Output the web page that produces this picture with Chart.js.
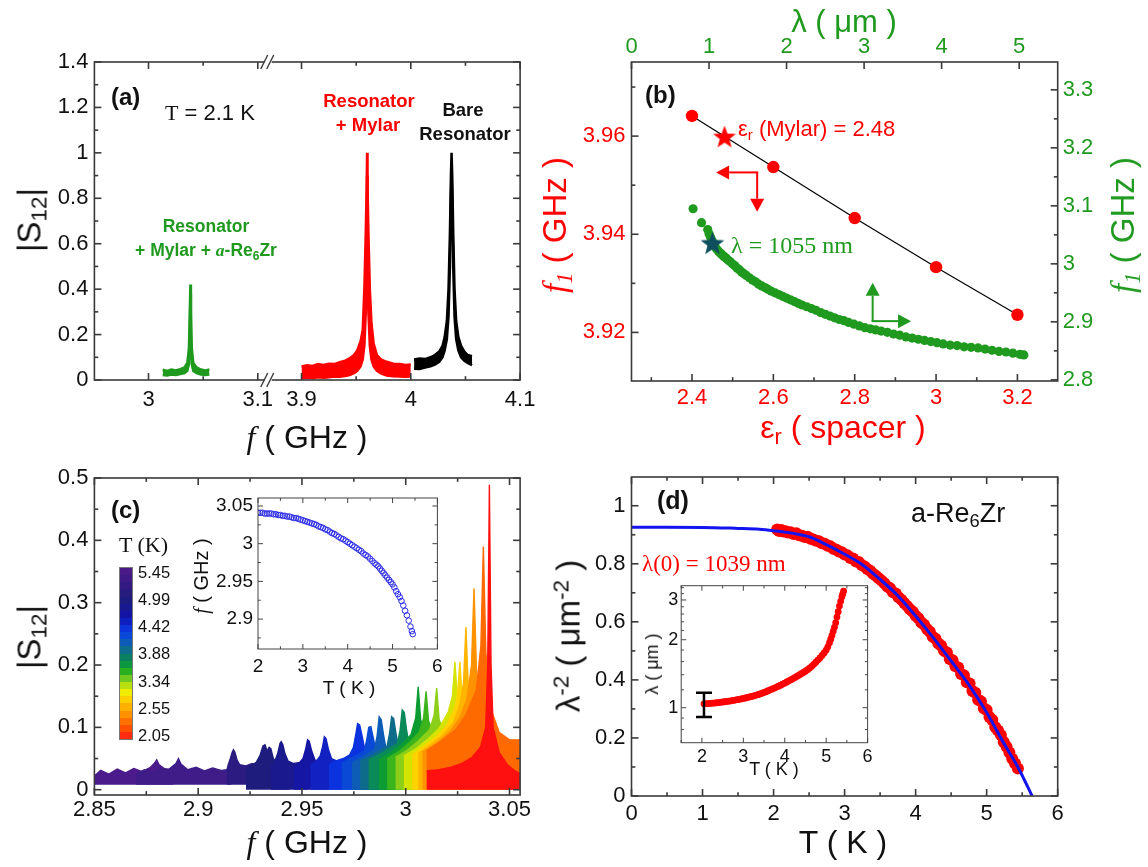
<!DOCTYPE html>
<html>
<head>
<meta charset="utf-8">
<script src="https://cdn.jsdelivr.net/npm/chart.js@4.4.1/dist/chart.umd.min.js"></script>
<style>
  body { margin: 0; background: #fff; width: 1148px; height: 867px; position: relative; overflow: hidden;
         font-family: "Liberation Sans", Arial, sans-serif; color: #111; }
  .box { position: absolute; }
  .t { position: absolute; white-space: nowrap; line-height: 1; z-index: 5; }
  .c { transform: translate(-50%, -50%); }
  .l { transform: translate(0, -50%); }
  .rot { transform: translate(-50%, -50%) rotate(-90deg); }
  .b { font-weight: bold; }
  .serif { font-family: "Liberation Serif", "Times New Roman", serif; }
  sub { font-size: .68em; vertical-align: -.28em; line-height: 0; }
  sup { font-size: .68em; vertical-align: .5em; line-height: 0; }
  #cbar { position: absolute; left: 119px; top: 567px; width: 12px; height: 171px; border: 1px solid #777;
          display: flex; flex-direction: column; z-index: 4; }
  #cbar div { flex: 1; }
</style>
</head>
<body>
<div class="box" id="wa"><canvas id="ca"></canvas></div>
<div class="box" id="wb"><canvas id="cb"></canvas></div>
<div class="box" id="wc"><canvas id="cc"></canvas></div>
<div class="box" id="wd"><canvas id="cd"></canvas></div>
<div class="box" id="wci" style="z-index:3"><canvas id="cci"></canvas></div>
<div class="box" id="wdi" style="z-index:3"><canvas id="cdi"></canvas></div>
<div id="cbar"></div>

<!-- panel (a) text -->
<div class="t b l" style="left:111px;top:97px;font-size:24px">(a)</div>
<div class="t l" style="left:165px;top:113px;font-size:22px"><span class="serif">T</span> = 2.1 K</div>
<div class="t b c" style="left:369px;top:101px;font-size:18.5px;color:#f00">Resonator</div>
<div class="t b c" style="left:368px;top:125px;font-size:18.5px;color:#f00">+ Mylar</div>
<div class="t b c" style="left:463px;top:110px;font-size:18.5px">Bare</div>
<div class="t b c" style="left:465px;top:134px;font-size:18.5px">Resonator</div>
<div class="t b c" style="left:206px;top:227px;font-size:17.5px;color:#1f9a1f">Resonator</div>
<div class="t b c" style="left:206px;top:251px;font-size:17.5px;color:#1f9a1f">+ Mylar + <i class="serif">a</i>-Re<sub>6</sub>Zr</div>
<div class="t rot" style="left:29px;top:220px;font-size:33px">|S<sub>12</sub>|</div>
<div class="t c" style="left:307px;top:437px;font-size:32px"><i class="serif">f</i> ( GHz )</div>

<!-- panel (b) text -->
<div class="t c" style="left:844px;top:21px;font-size:31px;color:#1f9a1f">λ ( μm )</div>
<div class="t b l" style="left:645px;top:95px;font-size:24px">(b)</div>
<div class="t l" style="left:738px;top:129px;font-size:22px;color:#f00">ε<sub>r</sub> (Mylar) = 2.48</div>
<div class="t l serif" style="left:731px;top:245px;font-size:24px;color:#1f9a1f">λ = 1055 nm</div>
<div class="t rot" style="left:555px;top:225px;font-size:33px;color:#f00"><i class="serif">f<sub>1</sub></i> ( GHz )</div>
<div class="t rot" style="left:1123px;top:225px;font-size:33px;color:#1f9a1f"><i class="serif">f<sub>1</sub></i> ( GHz )</div>
<div class="t c" style="left:843px;top:427px;font-size:32px;color:#f00">ε<sub>r</sub> ( spacer )</div>

<!-- panel (c) text -->
<div class="t b l" style="left:111px;top:510px;font-size:24px">(c)</div>
<div class="t l serif" style="left:119px;top:545px;font-size:22px">T (K)</div>
<div id="cbarLabels"></div>
<div class="t rot" style="left:29px;top:637px;font-size:33px">|S<sub>12</sub>|</div>
<div class="t c" style="left:307px;top:842px;font-size:32px"><i class="serif">f</i> ( GHz )</div>
<div class="t rot" style="left:201px;top:576px;font-size:20px"><i class="serif">f</i> ( GHz )</div>
<div class="t c" style="left:349px;top:687px;font-size:19px">T ( K )</div>

<!-- panel (d) text -->
<div class="t b l" style="left:657px;top:500px;font-size:25px">(d)</div>
<div class="t l" style="left:911px;top:513px;font-size:27px">a-Re<sub>6</sub>Zr</div>
<div class="t l serif" style="left:642px;top:563px;font-size:23px;color:#f00">λ(0) = 1039 nm</div>
<div class="t rot" style="left:568px;top:636px;font-size:33px">λ<sup>-2</sup> ( μm<sup>-2</sup> )</div>
<div class="t c" style="left:843px;top:842px;font-size:32px">T ( K )</div>
<div class="t rot" style="left:652px;top:664px;font-size:18px">λ ( μm )</div>
<div class="t c" style="left:774px;top:769px;font-size:18px">T ( K )</div>

<script>
// ---------- data: panel (a) |S12| envelopes (GHz, low / high edge of noisy trace)
const aGreenF  = [3.013, 3.017, 3.021, 3.025, 3.029, 3.033, 3.0355, 3.037, 3.0378, 3.0383, 3.0388, 3.0396, 3.041, 3.044, 3.048, 3.052, 3.0557];
const aGreenLo = [0.022, 0.020, 0.024, 0.022, 0.026, 0.030, 0.040, 0.070, 0.20, 0.38, 0.20, 0.070, 0.040, 0.030, 0.024, 0.022, 0.024];
const aGreenHi = [0.045, 0.040, 0.046, 0.042, 0.048, 0.055, 0.075, 0.14, 0.30, 0.42, 0.30, 0.14, 0.075, 0.055, 0.046, 0.042, 0.046];

const aRedF  = [3.900, 3.905, 3.910, 3.915, 3.920, 3.925, 3.930, 3.935, 3.940, 3.944, 3.948, 3.951, 3.954, 3.956, 3.9575, 3.9588, 3.9596, 3.9600, 3.9604, 3.9612, 3.9625, 3.964, 3.966, 3.969, 3.973, 3.978, 3.984, 3.990, 3.995, 4.000];
const aRedLo = [0.008, 0.010, 0.008, 0.012, 0.010, 0.012, 0.015, 0.014, 0.018, 0.022, 0.030, 0.040, 0.060, 0.090, 0.15, 0.30, 0.55, 0.90, 0.55, 0.30, 0.15, 0.090, 0.060, 0.040, 0.028, 0.020, 0.016, 0.015, 0.014, 0.015];
const aRedHi = [0.060, 0.065, 0.062, 0.070, 0.066, 0.072, 0.070, 0.078, 0.085, 0.095, 0.11, 0.13, 0.17, 0.22, 0.40, 0.65, 0.85, 1.0, 0.85, 0.65, 0.40, 0.25, 0.16, 0.11, 0.090, 0.080, 0.072, 0.070, 0.066, 0.068];

const aBlackF  = [4.003, 4.008, 4.013, 4.018, 4.022, 4.026, 4.029, 4.031, 4.033, 4.0345, 4.0358, 4.0367, 4.0373, 4.0379, 4.0388, 4.040, 4.0415, 4.0435, 4.046, 4.049, 4.052, 4.056];
const aBlackLo = [0.050, 0.048, 0.055, 0.060, 0.068, 0.080, 0.10, 0.13, 0.18, 0.28, 0.50, 0.80, 0.92, 0.80, 0.50, 0.28, 0.18, 0.13, 0.10, 0.085, 0.075, 0.065];
const aBlackHi = [0.090, 0.095, 0.092, 0.100, 0.110, 0.125, 0.15, 0.19, 0.26, 0.40, 0.65, 0.90, 1.0, 0.90, 0.65, 0.40, 0.26, 0.19, 0.15, 0.125, 0.110, 0.105];

const aXTicks = [3, 3.1, 3.9, 4, 4.1];
const aXLabels = ['3', '3.1', '3.9', '4', '4.1'];
const aXMinor = [3.05, 3.95, 4.05];
const aYTicks = [0, 0.2, 0.4, 0.6, 0.8, 1, 1.2, 1.4];
const aYMinor = [0.1, 0.3, 0.5, 0.7, 0.9, 1.1, 1.3];

// ---------- data: panel (b)
const bEps = [2.4, 2.6, 2.8, 3.0, 3.2];
const bF1 = [3.9641, 3.9537, 3.9433, 3.9333, 3.9236];
const bMylarEps = [2.48];
const bMylarF1 = [3.9597];
const bLam = [0.794, 0.903, 0.983, 1.00, 1.02, 1.04, 1.06, 1.08, 1.10, 1.12, 1.14, 1.16, 1.18, 1.20, 1.22, 1.24, 1.27, 1.30, 1.33, 1.36,
              1.39, 1.42, 1.45, 1.48, 1.52, 1.56, 1.60, 1.64, 1.68, 1.72, 1.76, 1.80, 1.85, 1.90, 1.95, 2.00, 2.05, 2.10, 2.15, 2.20,
              2.26, 2.32, 2.38, 2.44, 2.50, 2.56, 2.62, 2.68, 2.74, 2.80, 2.87, 2.94, 3.01, 3.08, 3.15, 3.22, 3.30, 3.38, 3.46, 3.54,
              3.62, 3.70, 3.78, 3.86, 3.94, 4.02, 4.11, 4.20, 4.29, 4.38, 4.47, 4.56, 4.65, 4.74, 4.83, 4.92, 5.01, 5.06];
const bF1Lam = [3.095, 3.071, 3.059, 3.052, 3.046, 3.040, 3.034, 3.029, 3.025, 3.022, 3.019, 3.017, 3.014, 3.012, 3.010, 3.007, 3.004, 3.000, 2.997, 2.993,
                2.990, 2.986, 2.983, 2.980, 2.976, 2.972, 2.969, 2.965, 2.962, 2.959, 2.956, 2.953, 2.950, 2.947, 2.944, 2.941, 2.938, 2.935, 2.932, 2.929,
                2.926, 2.923, 2.920, 2.916, 2.913, 2.910, 2.907, 2.904, 2.902, 2.899, 2.896, 2.893, 2.890, 2.888, 2.886, 2.884, 2.882, 2.879, 2.877, 2.874,
                2.872, 2.870, 2.868, 2.866, 2.864, 2.862, 2.860, 2.859, 2.857, 2.856, 2.855, 2.853, 2.851, 2.849, 2.848, 2.846, 2.844, 2.843];
const bStarLam = [1.044];
const bStarF1 = [3.034];
const bXTicks = [2.4, 2.6, 2.8, 3.0, 3.2];
const bXMinor = [2.3, 2.5, 2.7, 2.9, 3.1];
const bTopTicks = [0, 1, 2, 3, 4, 5];
const bYTicks = [3.92, 3.94, 3.96];
const bYMinor = [3.93, 3.95, 3.97];
const bY2Ticks = [2.8, 2.9, 3.0, 3.1, 3.2, 3.3];
const bY2Minor = [2.85, 2.95, 3.05, 3.15, 3.25];

// ---------- data: panel (c) spectra, one per temperature (GHz, |S12|)
const cTemps = [5.45, 5.30, 5.15, 5.00, 4.85, 4.70, 4.55, 4.42, 4.30, 4.15, 4.00, 3.88, 3.75, 3.60, 3.45, 3.34, 3.15, 2.95, 2.75, 2.55, 2.05];
const cSpectra = [
  [[2.850,0.022],[2.853,0.031],[2.857,0.025],[2.861,0.033],[2.865,0.027],[2.869,0.034],[2.873,0.029],[2.877,0.036],[2.8788,0.042],[2.880,0.048],[2.8812,0.040],[2.884,0.033],[2.888,0.030]],
  [[2.870,0.024],[2.874,0.032],[2.878,0.027],[2.882,0.034],[2.886,0.033],[2.8893,0.042],[2.8905,0.050],[2.8917,0.041],[2.895,0.032],[2.899,0.036],[2.903,0.030],[2.907,0.035],[2.911,0.031],[2.916,0.033]],
  [[2.9137,0.030],[2.9145,0.040],[2.9155,0.050],[2.9164,0.060],[2.917,0.064],[2.9177,0.060],[2.9187,0.048],[2.920,0.040],[2.923,0.038],[2.926,0.042],[2.929,0.036],[2.932,0.038]],
  [[2.923,0.034],[2.926,0.040],[2.928,0.044],[2.9298,0.055],[2.9312,0.070],[2.9322,0.072],[2.9332,0.062],[2.9342,0.068],[2.935,0.066],[2.9362,0.050],[2.938,0.042],[2.941,0.040],[2.944,0.040]],
  [[2.935,0.036],[2.9368,0.044],[2.9383,0.058],[2.9394,0.074],[2.940,0.077],[2.9408,0.072],[2.9418,0.058],[2.9433,0.046],[2.946,0.042],[2.950,0.044],[2.953,0.040]],
  [[2.946,0.036],[2.949,0.044],[2.9505,0.050],[2.9517,0.064],[2.9527,0.080],[2.9535,0.078],[2.9547,0.062],[2.9562,0.048],[2.959,0.044],[2.963,0.042]],
  [[2.954,0.038],[2.957,0.046],[2.9588,0.054],[2.9600,0.070],[2.9608,0.085],[2.9616,0.082],[2.9628,0.064],[2.9642,0.050],[2.967,0.046],[2.970,0.044]],
  [[2.963,0.040],[2.966,0.046],[2.970,0.050],[2.973,0.056],[2.9748,0.068],[2.976,0.090],[2.9768,0.106],[2.9778,0.104],[2.979,0.086],[2.9803,0.064],[2.982,0.054],[2.986,0.048]],
  [[2.969,0.042],[2.973,0.050],[2.977,0.056],[2.9800,0.062],[2.9812,0.080],[2.9822,0.100],[2.9832,0.101],[2.9843,0.084],[2.9857,0.062],[2.988,0.054],[2.991,0.050]],
  [[2.974,0.044],[2.978,0.050],[2.982,0.058],[2.9850,0.066],[2.9862,0.086],[2.9872,0.117],[2.9882,0.112],[2.9893,0.088],[2.9905,0.066],[2.993,0.056],[2.997,0.052]],
  [[2.978,0.046],[2.983,0.054],[2.987,0.062],[2.9910,0.070],[2.9922,0.090],[2.9932,0.117],[2.9942,0.114],[2.9953,0.090],[2.9966,0.068],[2.999,0.058],[3.002,0.054]],
  [[2.982,0.048],[2.987,0.056],[2.992,0.066],[2.9960,0.074],[2.9973,0.096],[2.9983,0.128],[2.9993,0.124],[3.0004,0.096],[3.0017,0.070],[3.004,0.060],[3.007,0.056]],
  [[2.987,0.048],[2.993,0.060],[2.998,0.072],[3.0025,0.088],[3.0048,0.115],[3.006,0.165],[3.0072,0.112],[3.011,0.076],[3.015,0.062]],
  [[2.991,0.050],[2.997,0.062],[3.002,0.076],[3.0065,0.092],[3.0086,0.115],[3.0098,0.158],[3.011,0.110],[3.015,0.078],[3.019,0.064]],
  [[2.995,0.052],[3.001,0.064],[3.006,0.078],[3.0115,0.096],[3.0137,0.120],[3.0149,0.163],[3.0161,0.112],[3.020,0.080],[3.024,0.066]],
  [[2.999,0.054],[3.005,0.066],[3.011,0.082],[3.016,0.098],[3.0205,0.125],[3.0225,0.150],[3.0237,0.205],[3.0249,0.145],[3.028,0.095],[3.032,0.075]],
  [[3.003,0.056],[3.009,0.070],[3.015,0.086],[3.020,0.104],[3.0235,0.130],[3.0249,0.150],[3.0261,0.205],[3.0273,0.140],[3.031,0.095],[3.036,0.078]],
  [[3.006,0.058],[3.012,0.072],[3.018,0.088],[3.023,0.108],[3.026,0.135],[3.0278,0.170],[3.029,0.261],[3.0302,0.160],[3.034,0.098],[3.040,0.080],[3.046,0.072],[3.051,0.068],[3.055,0.066]],
  [[3.008,0.060],[3.015,0.075],[3.021,0.092],[3.026,0.115],[3.0295,0.145],[3.0317,0.200],[3.0329,0.323],[3.0341,0.190],[3.037,0.112],[3.042,0.086],[3.048,0.075],[3.055,0.070]],
  [[3.010,0.062],[3.017,0.078],[3.024,0.096],[3.029,0.120],[3.034,0.160],[3.0362,0.230],[3.0374,0.390],[3.0386,0.220],[3.041,0.130],[3.045,0.092],[3.050,0.080],[3.055,0.080]],
  [[3.010,0.030],[3.016,0.032],[3.022,0.036],[3.027,0.042],[3.032,0.052],[3.036,0.068],[3.0385,0.100],[3.0395,0.200],[3.0403,0.489],[3.0411,0.200],[3.0421,0.100],[3.045,0.060],[3.049,0.040],[3.052,0.032],[3.055,0.026]]
];
const cColors = ['#4b1b8c', '#3f1c88', '#2c1b80', '#1e1c7c', '#1a1a8e', '#1616a4', '#1222c2', '#0a32de', '#0a48d6', '#0d5cb6', '#0e6c8a',
                 '#0a8a58', '#0c9c32', '#3cb41c', '#8ccf18', '#d4e400', '#ffd200', '#ffb400', '#ff9200', '#ff6a00', '#ff1010'];
const cBarLabels = ['5.45', '4.99', '4.42', '3.88', '3.34', '2.55', '2.05'];
const cBarColors = ['#4a1a88', '#3f1a86', '#331a82', '#261c7e', '#1c1c80', '#181890', '#1414a4', '#1020c0', '#0c34d8', '#0a48d8', '#0c5cb8', '#0e6c8c',
                    '#0a8060', '#0c9840', '#28b020', '#70c820', '#b8e010', '#f0ec00', '#ffd000', '#ffb000', '#ff9000', '#ff7000', '#ff5000', '#ff2a10'];
const cXTicks = [2.85, 2.9, 2.95, 3.0, 3.05];
const cXMinor = [2.875, 2.925, 2.975, 3.025];
const cYTicks = [0, 0.1, 0.2, 0.3, 0.4, 0.5];
const cYMinor = [0.05, 0.15, 0.25, 0.35, 0.45];

const cInsetT = [2.00, 2.05, 2.10, 2.15, 2.20, 2.25, 2.30, 2.35, 2.40, 2.45, 2.50, 2.55, 2.60, 2.65, 2.70, 2.75, 2.80, 2.85, 2.90, 2.95,
                 3.00, 3.05, 3.10, 3.15, 3.20, 3.25, 3.30, 3.35, 3.40, 3.45, 3.50, 3.55, 3.60, 3.65, 3.70, 3.75, 3.80, 3.85, 3.90, 3.95,
                 4.00, 4.05, 4.10, 4.15, 4.20, 4.25, 4.30, 4.35, 4.40, 4.45, 4.50, 4.55, 4.60, 4.64, 4.68, 4.72, 4.76, 4.80, 4.84, 4.88,
                 4.92, 4.96, 5.00, 5.04, 5.08, 5.12, 5.16, 5.20, 5.24, 5.28, 5.32, 5.36, 5.40, 5.43, 5.45];
const cInsetF = [3.041, 3.041, 3.041, 3.040, 3.040, 3.040, 3.040, 3.039, 3.039, 3.038, 3.038, 3.037, 3.037, 3.036, 3.036, 3.035, 3.034, 3.034, 3.033, 3.032,
                 3.031, 3.030, 3.029, 3.028, 3.027, 3.026, 3.025, 3.023, 3.022, 3.021, 3.019, 3.018, 3.016, 3.014, 3.013, 3.011, 3.009, 3.007, 3.006, 3.004,
                 3.002, 3.000, 2.998, 2.996, 2.994, 2.992, 2.990, 2.987, 2.985, 2.983, 2.980, 2.977, 2.974, 2.972, 2.970, 2.967, 2.964, 2.961, 2.958, 2.955,
                 2.952, 2.949, 2.946, 2.942, 2.937, 2.933, 2.929, 2.924, 2.918, 2.911, 2.905, 2.898, 2.890, 2.884, 2.880];
const ciXTicks = [2, 3, 4, 5, 6];
const ciXMinor = [2.5, 3.5, 4.5, 5.5];
const ciYTicks = [2.9, 2.95, 3.0, 3.05];
const ciYMinor = [2.875, 2.925, 2.975, 3.025];

// ---------- data: panel (d)
const dFitT  = [0, 0.5, 1.0, 1.5, 1.8, 2.0, 2.3, 2.5, 2.75, 3.0, 3.25, 3.5, 3.75, 4.0, 4.25, 4.5, 4.75, 5.0, 5.25, 5.45, 5.64];
const dFitL2 = [0.9255, 0.9255, 0.9254, 0.922, 0.919, 0.914, 0.904, 0.893, 0.865, 0.833, 0.797, 0.746, 0.690, 0.620, 0.545, 0.465, 0.383, 0.288, 0.178, 0.095, 0.0];
const dT  = [2.05, 2.08, 2.11, 2.14, 2.17, 2.20, 2.24, 2.28, 2.32, 2.36, 2.40, 2.44, 2.48, 2.52, 2.56, 2.60, 2.64, 2.68, 2.72, 2.76,
             2.80, 2.84, 2.88, 2.92, 2.96, 3.00, 3.04, 3.08, 3.12, 3.16, 3.20, 3.24, 3.28, 3.32, 3.36, 3.40, 3.44, 3.48, 3.52, 3.56,
             3.60, 3.64, 3.68, 3.72, 3.76, 3.80, 3.84, 3.88, 3.92, 3.96, 4.00, 4.04, 4.08, 4.12, 4.16, 4.20, 4.24, 4.28, 4.32, 4.36,
             4.40, 4.44, 4.48, 4.52, 4.56, 4.60, 4.64, 4.68, 4.72, 4.76, 4.80, 4.84, 4.88, 4.92, 4.96, 5.00, 5.04, 5.08, 5.12, 5.16,
             5.20, 5.24, 5.28, 5.32, 5.36, 5.40, 5.44];
const dL2 = [0.918, 0.913, 0.916, 0.911, 0.912, 0.908, 0.909, 0.903, 0.905, 0.898, 0.897, 0.892, 0.893, 0.886, 0.884, 0.879, 0.878, 0.871, 0.869, 0.862,
             0.860, 0.852, 0.849, 0.842, 0.840, 0.832, 0.829, 0.820, 0.818, 0.808, 0.806, 0.796, 0.791, 0.782, 0.776, 0.766, 0.759, 0.750, 0.742, 0.733,
             0.722, 0.716, 0.702, 0.698, 0.685, 0.676, 0.665, 0.655, 0.643, 0.635, 0.621, 0.612, 0.598, 0.590, 0.575, 0.566, 0.549, 0.542, 0.525, 0.518,
             0.500, 0.494, 0.472, 0.468, 0.447, 0.443, 0.420, 0.416, 0.392, 0.388, 0.362, 0.356, 0.332, 0.326, 0.302, 0.296, 0.272, 0.262, 0.238, 0.226,
             0.210, 0.186, 0.170, 0.150, 0.128, 0.112, 0.095];
const dXTicks = [0, 1, 2, 3, 4, 5, 6];
const dXMinor = [0.5, 1.5, 2.5, 3.5, 4.5, 5.5];
const dYTicks = [0, 0.2, 0.4, 0.6, 0.8, 1.0];
const dYMinor = [0.1, 0.3, 0.5, 0.7, 0.9];

const dInsetT = [2.05, 2.10, 2.15, 2.20, 2.25, 2.30, 2.35, 2.40, 2.45, 2.50, 2.55, 2.60, 2.65, 2.70, 2.75, 2.80, 2.85, 2.90, 2.95, 3.00,
                 3.05, 3.10, 3.15, 3.20, 3.25, 3.30, 3.35, 3.40, 3.45, 3.50, 3.55, 3.60, 3.65, 3.70, 3.75, 3.80, 3.85, 3.90, 3.95, 4.00,
                 4.05, 4.10, 4.15, 4.20, 4.25, 4.30, 4.35, 4.40, 4.45, 4.50, 4.55, 4.60, 4.65, 4.70, 4.75, 4.80, 4.85, 4.90, 4.95, 5.00,
                 5.04, 5.08, 5.11, 5.14, 5.17, 5.20, 5.23, 5.26, 5.29, 5.32, 5.35, 5.38, 5.40, 5.42];
const dInsetLam = [1.040, 1.042, 1.043, 1.045, 1.047, 1.049, 1.052, 1.054, 1.057, 1.060, 1.063, 1.066, 1.069, 1.073, 1.077, 1.081, 1.085, 1.089, 1.094, 1.099,
                   1.104, 1.110, 1.116, 1.122, 1.128, 1.135, 1.142, 1.150, 1.158, 1.168, 1.178, 1.189, 1.200, 1.211, 1.222, 1.234, 1.246, 1.259, 1.272, 1.286,
                   1.300, 1.315, 1.330, 1.346, 1.362, 1.379, 1.396, 1.414, 1.432, 1.452, 1.474, 1.498, 1.525, 1.556, 1.590, 1.625, 1.662, 1.703, 1.748, 1.800,
                   1.860, 1.940, 2.010, 2.090, 2.180, 2.270, 2.380, 2.520, 2.660, 2.820, 2.960, 3.100, 3.190, 3.280];
const dErrT = [2.05];
const dErrLo = [0.91];
const dErrHi = [1.165];
const diXTicks = [2, 3, 4, 5, 6];
const diXMinor = [1.5, 2.5, 3.5, 4.5, 5.5];
const diYTicks = [1, 2, 3];
const diYMinor = [0.8, 0.9, 1.2, 1.4, 1.6, 1.8, 2.2, 2.4, 2.6, 2.8, 3.2, 3.4];

// ---------- helpers
const SANS = '"Liberation Sans", Arial, sans-serif';
const RED = '#ff0000', GREEN = '#1f9a1f', INK = '#111';

Chart.defaults.animation = false;
Chart.defaults.events = [];
Chart.defaults.font.family = SANS;
Chart.defaults.plugins.legend.display = false;
Chart.defaults.plugins.tooltip.enabled = false;

const xy = (xs, ys, fx) => xs.map((x, i) => ({x: fx ? fx(x) : x, y: ys[i]}));
const brk = f => f > 3.5 ? f - 0.76 : f;   // broken axis of panel (a)

function axis(pos, min, max, ticks, color, size, pad, labels, type) {
  return {
    type: type || 'linear', position: pos, min: min, max: max,
    grid: {display: false, drawTicks: false},
    border: {display: false},
    afterBuildTicks: s => { s.ticks = ticks.map(v => ({value: v})); },
    ticks: {color: color, font: {family: SANS, size: size}, padding: pad, maxRotation: 0, autoSkip: false,
            callback: (v, i) => labels ? labels[i] : String(+(+v).toFixed(3))}
  };
}

// chart area pinned to exact page coordinates
function place(id, box, area, cfg) {
  const [L, T, W, H] = box;
  const wrap = document.getElementById('w' + id);
  wrap.style.left = L + 'px'; wrap.style.top = T + 'px';
  wrap.style.width = W + 'px'; wrap.style.height = H + 'px';
  const gap = {left: area[0] - L, top: area[1] - T, right: L + W - area[2], bottom: T + H - area[3]};
  const pad = Object.assign({}, gap);
  Object.values(cfg.options.scales).forEach(s => {
    const g = gap[s.position];
    pad[s.position] = 0;
    s.afterFit = sc => {
      if (s.position === 'left' || s.position === 'right') sc.width = g; else sc.height = g;
      sc.paddingLeft = sc.paddingRight = sc.paddingTop = sc.paddingBottom = 0;
    };
  });
  cfg.options.layout = {padding: pad};
  cfg.options.responsive = true;
  cfg.options.maintainAspectRatio = false;
  return new Chart(document.getElementById('c' + id), cfg);
}

// box frame with inward major/minor ticks
function frame(sides, color, width, len) {
  return {
    id: 'frame',
    afterDatasetsDraw(chart) {
      const a = chart.chartArea, ctx = chart.ctx;
      ctx.save();
      ctx.strokeStyle = color; ctx.lineWidth = width;
      ctx.strokeRect(a.left, a.top, a.right - a.left, a.bottom - a.top);
      sides.forEach(s => {
        const sc = chart.scales[s.scale];
        [[s.major, len], [s.minor || [], len * 0.55]].forEach(([vals, l]) => vals.forEach(v => {
          const p = sc.getPixelForValue(v);
          ctx.beginPath();
          if (s.side === 'bottom') { ctx.moveTo(p, a.bottom); ctx.lineTo(p, a.bottom - l); }
          if (s.side === 'top') { ctx.moveTo(p, a.top); ctx.lineTo(p, a.top + l); }
          if (s.side === 'left') { ctx.moveTo(a.left, p); ctx.lineTo(a.left + l, p); }
          if (s.side === 'right') { ctx.moveTo(a.right, p); ctx.lineTo(a.right - l, p); }
          ctx.stroke();
        }));
      });
      ctx.restore();
    }
  };
}

function starImg(color, r) {
  const c = document.createElement('canvas');
  c.width = c.height = 2 * r + 2;
  const g = c.getContext('2d');
  g.fillStyle = color;
  g.beginPath();
  for (let i = 0; i < 10; i++) {
    const rr = i % 2 ? r * 0.42 : r;
    const ang = -Math.PI / 2 + i * Math.PI / 5;
    g.lineTo(r + 1 + rr * Math.cos(ang), r + 1 + rr * Math.sin(ang));
  }
  g.closePath();
  g.fill();
  return c;
}

function band(xs, lo, hi, color, fx) {
  return [
    {data: xy(xs, hi, fx), borderColor: color, backgroundColor: color, borderWidth: 2.5, pointRadius: 0, fill: '+1'},
    {data: xy(xs, lo, fx), borderColor: color, backgroundColor: color, borderWidth: 2.5, pointRadius: 0, fill: false}
  ];
}

const FRAME = '#3a3a3a';

// ---------- panel (a)
const breakMarks = {
  id: 'breakMarks',
  afterDraw(chart) {
    const a = chart.chartArea, ctx = chart.ctx;
    const px = chart.scales.x.getPixelForValue(3.11);
    ctx.save();
    [a.top, a.bottom].forEach(y => {
      ctx.fillStyle = '#fff';
      ctx.fillRect(px - 4, y - 3, 7, 6);
      ctx.strokeStyle = FRAME; ctx.lineWidth = 1.4;
      ctx.beginPath();
      ctx.moveTo(px - 8, y + 7); ctx.lineTo(px - 1, y - 7);
      ctx.moveTo(px - 2, y + 7); ctx.lineTo(px + 5, y - 7);
      ctx.stroke();
    });
    ctx.restore();
  }
};

place('a', [0, 0, 574, 450], [94.4, 62, 520.1, 380], {
  type: 'line',
  data: {datasets: [
    ...band(aGreenF, aGreenLo, aGreenHi, GREEN),
    ...band(aRedF, aRedLo, aRedHi, RED, brk),
    ...band(aBlackF, aBlackLo, aBlackHi, '#000', brk)
  ]},
  options: {scales: {
    x: axis('bottom', 2.9505, brk(4.1), aXTicks.map(brk), INK, 22, 7, aXLabels),
    y: axis('left', 0, 1.4, aYTicks, INK, 22, 6)
  }},
  plugins: [frame([
    {scale: 'x', side: 'bottom', major: aXTicks.map(brk), minor: aXMinor.map(brk)},
    {scale: 'x', side: 'top', major: aXTicks.map(brk), minor: aXMinor.map(brk)},
    {scale: 'y', side: 'left', major: aYTicks, minor: aYMinor},
    {scale: 'y', side: 'right', major: aYTicks, minor: aYMinor}
  ], FRAME, 1.6, 7), breakMarks]
});

// ---------- panel (b)
function arrow(ctx, x0, y0, x1, y1, color) {
  const ang = Math.atan2(y1 - y0, x1 - x0), hl = 13, hw = 7;
  ctx.strokeStyle = color; ctx.fillStyle = color; ctx.lineWidth = 2;
  ctx.beginPath(); ctx.moveTo(x0, y0);
  ctx.lineTo(x1 - hl * Math.cos(ang), y1 - hl * Math.sin(ang)); ctx.stroke();
  ctx.beginPath(); ctx.moveTo(x1, y1);
  ctx.lineTo(x1 - hl * Math.cos(ang) + hw * Math.sin(ang), y1 - hl * Math.sin(ang) - hw * Math.cos(ang));
  ctx.lineTo(x1 - hl * Math.cos(ang) - hw * Math.sin(ang), y1 - hl * Math.sin(ang) + hw * Math.cos(ang));
  ctx.closePath(); ctx.fill();
}
const axisArrows = {
  id: 'axisArrows',
  afterDatasetsDraw(chart) {
    const X = v => chart.scales.x.getPixelForValue(v), Y = v => chart.scales.y.getPixelForValue(v);
    const ctx = chart.ctx;
    ctx.save();
    arrow(ctx, X(2.5602) + 1, Y(3.9526), X(2.4593), Y(3.9526), RED);
    arrow(ctx, X(2.5602), Y(3.9526), X(2.5602), Y(3.9446), RED);
    arrow(ctx, X(2.8441), Y(3.9223), X(2.8441), Y(3.9301), GREEN);
    arrow(ctx, X(2.8441) - 1, Y(3.9223), X(2.9386), Y(3.9223), GREEN);
    ctx.restore();
  }
};

place('b', [574, 0, 574, 450], [631.5, 62, 1057.7, 381], {
  type: 'line',
  data: {datasets: [
    {data: xy(bMylarEps, bMylarF1), xAxisID: 'x', yAxisID: 'y', showLine: false, pointStyle: starImg(RED, 12), order: 0},
    {data: xy(bStarLam, bStarF1), xAxisID: 'x2', yAxisID: 'y2', showLine: false, pointStyle: starImg('#0d4f5e', 12.5), order: 1},
    {data: xy(bEps, bF1), xAxisID: 'x', yAxisID: 'y', showLine: false, pointRadius: 6.2, pointBackgroundColor: RED, pointBorderWidth: 0, order: 2},
    {data: xy(bEps, bF1), xAxisID: 'x', yAxisID: 'y', borderColor: '#000', borderWidth: 1.2, pointRadius: 0, order: 3},
    {data: xy(bLam, bF1Lam), xAxisID: 'x2', yAxisID: 'y2', showLine: false, pointRadius: 4.6, pointBackgroundColor: GREEN, pointBorderWidth: 0, order: 4}
  ]},
  options: {scales: {
    x: axis('bottom', 2.2513, 3.299, bXTicks, RED, 22, 4),
    x2: axis('top', 0, 5.497, bTopTicks, GREEN, 22, 2),
    y: axis('left', 3.9101, 3.9751, bYTicks, RED, 22, 6),
    y2: axis('right', 2.798, 3.348, bY2Ticks, GREEN, 22, 5)
  }},
  plugins: [frame([
    {scale: 'x', side: 'bottom', major: bXTicks, minor: bXMinor},
    {scale: 'x2', side: 'top', major: bTopTicks},
    {scale: 'y', side: 'left', major: bYTicks, minor: bYMinor},
    {scale: 'y2', side: 'right', major: bY2Ticks, minor: bY2Minor}
  ], FRAME, 1.6, 7), axisArrows]
});

// ---------- panel (c)
place('c', [0, 450, 574, 417], [94.4, 478, 520.1, 795], {
  type: 'line',
  data: {datasets: cSpectra.map((sp, i) => ({
    label: cTemps[i] + ' K',
    data: sp.map(p => ({x: p[0], y: p[1]})),
    borderColor: cColors[i], backgroundColor: cColors[i], borderWidth: 1.4, pointRadius: 0,
    fill: i < 3 ? {value: 0.008} : 'origin', order: -i
  }))},
  options: {scales: {
    x: axis('bottom', 2.85, 3.0551, cXTicks, INK, 22, 2),
    y: axis('left', -0.0085, 0.5, cYTicks, INK, 22, 6)
  }},
  plugins: [frame([
    {scale: 'x', side: 'bottom', major: cXTicks, minor: cXMinor},
    {scale: 'x', side: 'top', major: cXTicks, minor: cXMinor},
    {scale: 'y', side: 'left', major: cYTicks, minor: cYMinor},
    {scale: 'y', side: 'right', major: cYTicks, minor: cYMinor}
  ], FRAME, 1.6, 7)]
});

place('ci', [200, 488, 250, 200], [258, 498, 437.4, 649], {
  type: 'line',
  data: {datasets: [
    {data: xy(cInsetT, cInsetF), showLine: false, pointRadius: 2.8, pointBorderWidth: 1,
     pointBorderColor: '#2a2ae6', pointBackgroundColor: 'rgba(0,0,0,0)'}
  ]},
  options: {scales: {
    x: axis('bottom', 2, 6, ciXTicks, INK, 19, 6),
    y: axis('left', 2.8603, 3.0606, ciYTicks, INK, 19, 5)
  }},
  plugins: [frame([
    {scale: 'x', side: 'bottom', major: ciXTicks, minor: ciXMinor},
    {scale: 'x', side: 'top', major: ciXTicks, minor: ciXMinor},
    {scale: 'y', side: 'left', major: ciYTicks, minor: ciYMinor},
    {scale: 'y', side: 'right', major: ciYTicks, minor: ciYMinor}
  ], '#444', 1, 5)]
});

// colour bar of panel (c)
const bar = document.getElementById('cbar');
cBarColors.forEach(col => { const d = document.createElement('div'); d.style.background = col; bar.appendChild(d); });
const barLab = document.getElementById('cbarLabels');
cBarLabels.forEach((txt, i) => {
  const d = document.createElement('div');
  d.className = 't l';
  d.style.cssText = `left:138px;top:${571.7 + i * 27.2}px;font-size:16.5px`;
  d.textContent = txt;
  barLab.appendChild(d);
});

// ---------- panel (d)
place('d', [574, 450, 574, 417], [631.5, 477, 1057.7, 796], {
  type: 'line',
  data: {datasets: [
    {data: xy(dFitT, dFitL2), borderColor: '#1414f0', borderWidth: 3, pointRadius: 0, cubicInterpolationMode: 'monotone', order: 0},
    {data: xy(dT, dL2), showLine: false, pointRadius: 6, pointBackgroundColor: RED, pointBorderWidth: 0, order: 1}
  ]},
  options: {scales: {
    x: axis('bottom', 0, 6, dXTicks, INK, 22, 5),
    y: axis('left', 0, 1.099, dYTicks, INK, 22, 6)
  }},
  plugins: [frame([
    {scale: 'x', side: 'bottom', major: dXTicks, minor: dXMinor},
    {scale: 'x', side: 'top', major: dXTicks, minor: dXMinor},
    {scale: 'y', side: 'left', major: dYTicks, minor: dYMinor},
    {scale: 'y', side: 'right', major: dYTicks, minor: dYMinor}
  ], FRAME, 1.6, 7)]
});

place('di', [650, 575, 230, 195], [681.2, 585.7, 867.6, 742.7], {
  type: 'line',
  data: {datasets: [
    {data: [{x: dErrT[0], y: dErrLo[0]}, {x: dErrT[0], y: dErrHi[0]}], borderColor: '#000', borderWidth: 2.5,
     pointStyle: 'line', pointRadius: 8, pointBorderWidth: 2.5, pointBorderColor: '#000', order: 0},
    {data: xy(dInsetT, dInsetLam), showLine: false, pointRadius: 3.4, pointBackgroundColor: RED, pointBorderWidth: 0, order: 1}
  ]},
  options: {scales: {
    x: axis('bottom', 1.5, 6, diXTicks, INK, 18, 4),
    y: axis('left', 0.743, 3.47, diYTicks, INK, 18, 3, null, 'logarithmic')
  }},
  plugins: [frame([
    {scale: 'x', side: 'bottom', major: diXTicks, minor: diXMinor},
    {scale: 'x', side: 'top', major: diXTicks, minor: diXMinor},
    {scale: 'y', side: 'left', major: diYTicks, minor: diYMinor},
    {scale: 'y', side: 'right', major: diYTicks, minor: diYMinor}
  ], '#444', 1, 5)]
});
</script>
</body>
</html>
